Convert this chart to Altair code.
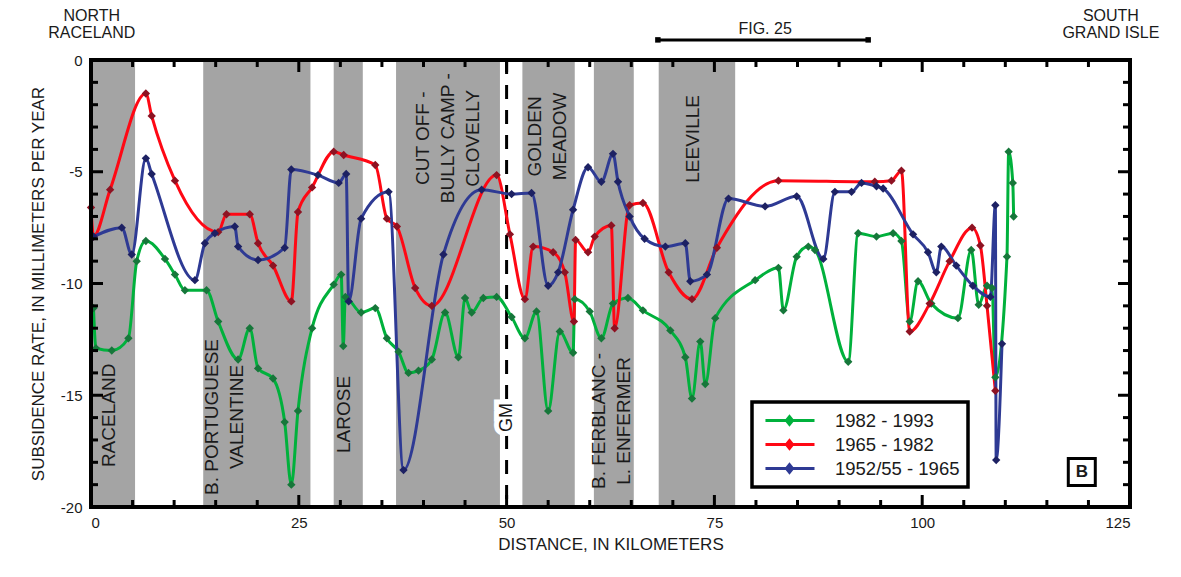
import altair as alt
import pandas as pd

FONT = "Liberation Sans"
TXT = "#1a1a1a"

SERIES = ["1982 - 1993", "1965 - 1982", "1952/55 - 1965"]
LINE_COLORS = ["#00b13c", "#ff0814", "#2e3a94"]
MARK_COLORS = ["#16773a", "#8e1222", "#1d2163"]

green_km = [0.3, 0.6, 2.5, 4.5, 5.5, 6.6, 8.9, 10.1, 11.3, 13.9, 15.3, 17.7, 19.1, 20.1, 21.9,
            23.3, 24.1, 24.9, 26.6, 29.2, 30.1, 30.35, 30.6, 32.5, 34.2, 35.6, 37.0, 38.2, 39.4,
            41.0, 42.6, 44.2, 45.0, 45.8, 47.2, 48.8, 50.6, 52.2, 53.6, 55.0, 56.4, 58.0, 58.2,
            60.0, 61.4, 62.8, 64.6, 66.4, 69.7, 71.5, 72.3, 73.3, 73.9, 75.1, 79.9, 82.7, 83.3,
            84.9, 86.3, 87.1, 91.1, 92.3, 94.5, 96.5, 97.5, 98.5, 99.5, 101.1, 104.3, 105.9,
            106.8, 107.8, 108.4, 108.8, 110.2, 110.4, 110.9, 111.0]
green_rate = [-11.1, -12.9, -13.0, -12.45, -9.0, -8.1, -8.9, -9.6, -10.3, -10.3, -11.7, -13.4,
              -12.0, -13.8, -14.25, -16.2, -19.0, -15.7, -12.0, -10.05, -9.6, -12.8, -10.6, -11.3,
              -11.1, -12.45, -13.05, -14.0, -13.9, -13.4, -11.3, -13.3, -10.65, -11.3, -10.65,
              -10.6, -11.5, -12.45, -11.25, -15.7, -12.15, -13.1, -10.7, -11.25, -12.45, -10.9,
              -10.65, -11.2, -12.1, -13.3, -15.15, -12.6, -14.5, -11.55, -9.85, -9.3, -11.2,
              -8.8, -8.35, -8.5, -13.5, -7.75, -7.9, -7.75, -8.1, -11.7, -9.9, -10.9, -11.55,
              -8.5, -10.95, -10.1, -10.2, -14.2, -8.8, -4.1, -5.5, -7.0]

red_km = [0.0, 0.3, 2.3, 6.6, 7.3, 10.1, 15.3, 16.3, 19.1, 20.1, 21.9, 24.1, 24.9, 26.6, 29.2,
          30.4, 34.2, 35.6, 36.8, 39.0, 41.0, 48.8, 50.4, 52.2, 53.2, 55.6, 57.0, 58.1, 58.3,
          59.8, 60.6, 62.6, 63.0, 64.8, 66.4, 69.5, 72.3, 75.3, 82.7, 94.3, 96.3, 97.5, 98.5,
          100.9, 103.3, 106.0, 107.0, 107.8, 108.8]
red_rate = [-6.6, -7.9, -5.8, -1.5, -2.5, -5.4, -7.7, -6.9, -6.9, -8.2, -9.2, -10.8, -6.8, -5.7,
            -4.1, -4.25, -4.7, -7.1, -7.45, -10.2, -11.0, -5.15, -7.8, -10.7, -8.35, -8.6, -9.5,
            -11.7, -8.05, -8.6, -7.9, -7.4, -12.0, -6.5, -6.4, -9.5, -10.7, -8.4, -5.4, -5.45,
            -5.4, -4.95, -12.15, -10.9, -9.0, -7.5, -8.3, -11.0, -14.8]

blue_km = [0.3, 3.7, 4.9, 6.6, 7.3, 12.5, 13.7, 14.9, 17.3, 17.7, 20.1, 23.3, 24.1, 27.3, 29.8,
           30.7, 31.0, 32.5, 35.8, 37.6, 42.4, 47.0, 50.6, 53.0, 55.0, 56.2, 58.0, 59.8, 61.4,
           62.8, 63.4, 64.8, 66.6, 69.1, 71.5, 72.1, 74.1, 76.7, 81.1, 84.9, 88.1, 89.5, 91.5,
           92.7, 94.5, 95.3, 98.9, 100.7, 101.7, 102.3, 104.1, 106.1, 108.2, 108.8, 108.9, 109.6]
blue_rate = [-7.9, -7.5, -8.7, -4.4, -5.1, -9.85, -8.2, -7.75, -7.45, -8.35, -8.95, -8.4, -4.9,
             -5.15, -5.5, -5.1, -10.8, -7.1, -5.9, -18.35, -8.7, -5.8, -6.0, -5.95, -10.1, -9.5,
             -6.7, -4.8, -5.45, -4.2, -5.45, -7.0, -8.0, -8.35, -8.2, -9.9, -9.6, -6.2, -6.55,
             -6.1, -8.9, -5.9, -5.9, -5.5, -5.65, -5.75, -7.8, -8.6, -9.5, -8.35, -9.2, -10.1,
             -10.6, -6.5, -17.9, -12.7]

band_start = [0.0, 13.5, 29.2, 36.7, 51.9, 60.5, 68.3]
band_end = [5.3, 26.4, 32.7, 49.2, 58.2, 65.3, 77.5]

# anchor = centre of the first text line
place_text = ["RACELAND", "B. PORTUGUESE\nVALENTINE", "LAROSE", "CUT OFF -\nBULLY CAMP -\nCLOVELLY",
              "GOLDEN\nMEADOW", "B. FERBLANC -\nL. ENFERMER", "LEEVILLE"]
place_km = [2.2, 14.6, 30.4, 39.95, 53.4, 61.1, 72.4]
place_rate = [-15.9, -15.97, -15.86, -3.5, -3.42, -16.15, -3.53]

gm_km = [50.0]
gm_rate = [-16.0]
gm_text = ["GM"]

top_text = ["NORTH\nRACELAND", "SOUTH\nGRAND ISLE", "FIG. 25"]
top_km = [0.1, 122.7, 81.1]
top_rate = [1.95, 1.95, 1.39]

fig_km = [68.2, 93.5]
fig_rate = [0.9, 0.9]

panel_text = ["B"]
panel_km = [119.2]
panel_rate = [-18.43]

x_label_vals = [0, 25, 50, 75, 100, 125]
y_label_vals = [0, -5, -10, -15, -20]

# ---------------------------------------------------------------- tables
rows = []
for name, kms, rates in zip(SERIES, [green_km, red_km, blue_km], [green_rate, red_rate, blue_rate]):
    for i, (k, r) in enumerate(zip(kms, rates)):
        rows.append({"series": name, "km": k, "rate": r, "i": i})
df = pd.DataFrame(rows)

bands = pd.DataFrame({"a": band_start, "b": band_end})
places = pd.DataFrame({"t": place_text, "km": place_km, "rate": place_rate})
gm = pd.DataFrame({"t": gm_text, "km": gm_km, "rate": gm_rate})
tops = pd.DataFrame({"t": top_text, "km": top_km, "rate": top_rate})
fig = pd.DataFrame({"km": fig_km, "rate": fig_rate})
panel = pd.DataFrame({"t": panel_text, "km": panel_km, "rate": panel_rate})

PX_KM = 1039 / 125.0
PX_RATE = 447 / 20.0
tick_rows = []
for v in range(0, 126, 5):
    L = 12 if v % 25 == 0 else 7
    tick_rows.append({"x": v, "x2": v, "y": -20, "y2": -20 + L / PX_RATE})
    tick_rows.append({"x": v, "x2": v, "y": 0, "y2": -L / PX_RATE})
for v in range(-20, 1):
    L = 12 if v % 5 == 0 else 7
    tick_rows.append({"x": 0, "x2": L / PX_KM, "y": v, "y2": v})
    tick_rows.append({"x": 125, "x2": 125 - L / PX_KM, "y": v, "y2": v})
ticks = pd.DataFrame(tick_rows)
frame = pd.DataFrame({"x": [0], "x2": [125], "y": [0], "y2": [-20]})

xs = alt.Scale(domain=[0, 125], nice=False, zero=False)
ys = alt.Scale(domain=[-20, 0], nice=False, zero=False)
X_AX = alt.Axis(values=x_label_vals, ticks=False, domain=False, grid=False,
                labelPadding=8, title="DISTANCE, IN KILOMETERS", titlePadding=6)
Y_AX = alt.Axis(values=y_label_vals, ticks=False, domain=False, grid=False, labelPadding=9,
                labelExpr="datum.value == 0 ? '0' : '-' + abs(datum.value)",
                title="SUBSIDENCE RATE, IN MILLIMETERS PER YEAR", titlePadding=13)


def X(f):
    return alt.X(f, scale=xs, axis=X_AX)


def Y(f):
    return alt.Y(f, scale=ys, axis=Y_AX)


# ---------------------------------------------------------------- layers
band_layer = alt.Chart(bands).mark_rect(color="#a4a4a4").encode(x=X("a:Q"), x2="b:Q")

dash_layer = alt.Chart(gm).mark_rule(color="black", strokeWidth=3, strokeDash=[14, 11]).encode(
    x=X("km:Q")
)

place_layer = alt.Chart(places).mark_text(
    angle=270, align="center", baseline="middle", lineBreak="\n", lineHeight=25,
    font=FONT, fontSize=19, color=TXT
).encode(x=X("km:Q"), y=Y("rate:Q"), text="t:N")

gm_halo = alt.Chart(gm).mark_text(
    angle=270, align="center", baseline="middle", font=FONT, fontSize=18,
    color="white", stroke="white", strokeWidth=10
).encode(x=X("km:Q"), y=Y("rate:Q"), text="t:N")
gm_layer = alt.Chart(gm).mark_text(
    angle=270, align="center", baseline="middle", font=FONT, fontSize=18, color=TXT
).encode(x=X("km:Q"), y=Y("rate:Q"), text="t:N")

LEG_PATH = "M-0.56,0L4.89,0M2.11,-0.42L2.45,0L2.11,0.42L1.77,0Z"

line_layer = alt.Chart(df).mark_line(interpolate="monotone", strokeWidth=3).encode(
    x=X("km:Q"),
    y=Y("rate:Q"),
    color=alt.Color("series:N", scale=alt.Scale(domain=SERIES, range=LINE_COLORS),
                    legend=alt.Legend(title=None, orient="none", legendX=661, legendY=342,
                                      symbolType=LEG_PATH, symbolSize=324, symbolStrokeWidth=3,
                                      labelFont=FONT, labelFontSize=18.5, labelColor=TXT,
                                      labelOffset=54, padding=8, rowPadding=3,
                                      strokeColor="black")),
    order="i:Q",
)

point_layer = alt.Chart(df).mark_point(shape="diamond", filled=True, size=70, opacity=1,
                                       strokeWidth=0).encode(
    x=X("km:Q"),
    y=Y("rate:Q"),
    fill=alt.Fill("series:N", scale=alt.Scale(domain=SERIES, range=MARK_COLORS), legend=None),
)

top_layer = alt.Chart(tops).mark_text(
    align="center", baseline="middle", lineBreak="\n", lineHeight=17,
    font=FONT, fontSize=16, color=TXT
).encode(x=X("km:Q"), y=Y("rate:Q"), text="t:N")

fig_line = alt.Chart(fig).mark_line(color="black", strokeWidth=3).encode(x=X("km:Q"), y=Y("rate:Q"))
fig_ends = alt.Chart(fig).mark_point(shape="square", filled=True, color="black", size=30,
                                     opacity=1).encode(x=X("km:Q"), y=Y("rate:Q"))

tick_layer = alt.Chart(ticks).mark_rule(color="black", strokeWidth=3).encode(
    x=X("x:Q"), x2="x2:Q", y=Y("y:Q"), y2="y2:Q",
)

frame_layer = alt.Chart(frame).mark_rect(filled=False, stroke="black", strokeWidth=4).encode(
    x=X("x:Q"), x2="x2:Q", y=Y("y:Q"), y2="y2:Q",
)

panel_box = alt.Chart(panel).mark_point(shape="square", filled=False, color="black", size=729,
                                        strokeWidth=3, opacity=1).encode(x=X("km:Q"), y=Y("rate:Q"))
panel_txt = alt.Chart(panel).mark_text(font=FONT, fontSize=17, fontWeight="bold", color=TXT,
                                       align="center", baseline="middle").encode(
    x=X("km:Q"), y=Y("rate:Q"), text="t:N"
)

chart = alt.layer(
    band_layer, dash_layer, place_layer, gm_halo, gm_layer,
    line_layer, point_layer, top_layer, fig_line, fig_ends, tick_layer, frame_layer,
    panel_box, panel_txt,
).properties(
    width=1039, height=447,
    autosize=alt.AutoSizeParams(type="none"),
    padding={"left": 83, "top": 52, "right": 40, "bottom": 50},
    background="white",
).configure_view(stroke=None).configure_axis(
    labelFont=FONT, labelFontSize=15, labelColor=TXT,
    titleFont=FONT, titleFontSize=17, titleFontWeight="normal", titleColor=TXT,
).configure_legend(strokeWidth=3.5)

chart.save("out.html", embed_options={"renderer": "svg", "actions": False})
